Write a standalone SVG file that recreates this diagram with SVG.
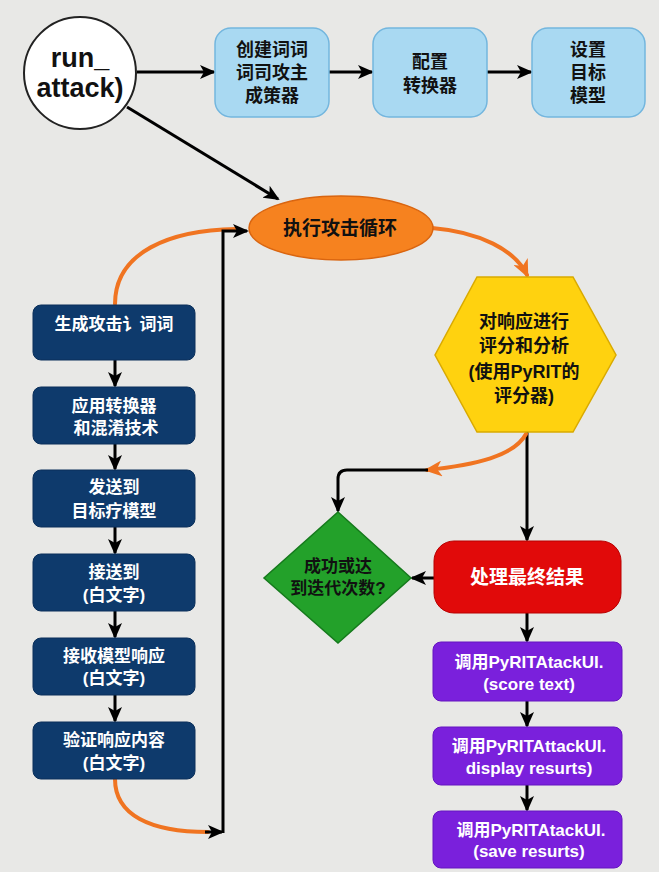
<svg xmlns="http://www.w3.org/2000/svg" width="659" height="872" viewBox="0 0 659 872">
<style>
text{font-family:"Liberation Sans","Noto Sans CJK SC",sans-serif;font-weight:bold;text-anchor:middle;dominant-baseline:central}
.lb{fill:#a9d9f2;stroke:#73b6de;stroke-width:1.5}
.nv{fill:#0e3a6c;stroke:#0a2f5a;stroke-width:1}
.pp{fill:#7a20dc;stroke:#6514c0;stroke-width:1}
.blk{fill:#111}
.wht{fill:#fff}
.cb{fill:none;stroke:#000;stroke-width:3}
.co{fill:none;stroke:#f07421;stroke-width:4;stroke-linecap:round}
</style>
<defs>
<marker id="ab" markerUnits="userSpaceOnUse" markerWidth="16" markerHeight="14" refX="14" refY="7" orient="auto"><path d="M0,0 L16,7 L0,14 L4,7 z" fill="#000"/></marker>
<marker id="ao" markerUnits="userSpaceOnUse" markerWidth="18" markerHeight="16" refX="15" refY="8" orient="auto"><path d="M0,0 L18,8 L0,16 L5,8 z" fill="#f07421"/></marker>
</defs>
<rect width="659" height="872" fill="#e8e8e6"/>

<g id="connectors">
<line class="cb" x1="137" y1="72" x2="214" y2="72" marker-end="url(#ab)"/>
<line class="cb" x1="329" y1="72" x2="372" y2="72" marker-end="url(#ab)"/>
<line class="cb" x1="487" y1="72" x2="531" y2="72" marker-end="url(#ab)"/>
<line class="cb" x1="127" y1="107" x2="278" y2="199" marker-end="url(#ab)"/>
<path class="co" d="M432,228 C480,232 515,250 527,275" marker-end="url(#ao)"/>
<line class="cb" x1="527" y1="432" x2="527" y2="540" marker-end="url(#ab)"/>
<path class="co" d="M526,434 C514,456 476,465 427,470" marker-end="url(#ao)"/>
<path class="cb" d="M428,470 H347 Q338,470 338,479 V511" marker-end="url(#ab)"/>
<line class="cb" x1="434" y1="578" x2="412" y2="578" marker-end="url(#ab)"/>
<line class="cb" x1="527" y1="613" x2="527" y2="641" marker-end="url(#ab)"/>
<line class="cb" x1="527" y1="701" x2="527" y2="726" marker-end="url(#ab)"/>
<line class="cb" x1="527" y1="785" x2="527" y2="810" marker-end="url(#ab)"/>
<line class="cb" x1="115" y1="360" x2="115" y2="386" marker-end="url(#ab)"/>
<line class="cb" x1="115" y1="444" x2="115" y2="469" marker-end="url(#ab)"/>
<line class="cb" x1="115" y1="527" x2="115" y2="553" marker-end="url(#ab)"/>
<line class="cb" x1="115" y1="611" x2="115" y2="637" marker-end="url(#ab)"/>
<line class="cb" x1="115" y1="695" x2="115" y2="721" marker-end="url(#ab)"/>
<path class="co" d="M115,304 C115,252 170,230 236,229"/>
<path class="co" d="M115,779 C115,815 150,832 208,832"/>
<line class="cb" x1="205" y1="832" x2="222" y2="832" marker-end="url(#ab)"/>
<path class="cb" d="M223,833 V231 H247" marker-end="url(#ab)"/>
</g>

<g id="run_attack">
<circle cx="80" cy="73" r="56" fill="#fff" stroke="#222" stroke-width="2"/>
<text x="80" y="58" font-size="27" class="blk">run_</text>
<text x="80" y="88" font-size="27" class="blk">attack)</text>
</g>
<g id="create_gen">
<rect class="lb" x="215" y="28" width="114" height="89" rx="16"/>
<text x="272" y="50" font-size="18" class="blk">创建词词</text>
<text x="272" y="73" font-size="18" class="blk">词司攻主</text>
<text x="272" y="96" font-size="18" class="blk">成策器</text>
</g>
<g id="config_conv">
<rect class="lb" x="373" y="28" width="114" height="89" rx="16"/>
<text x="430" y="62" font-size="18" class="blk">配置</text>
<text x="430" y="86" font-size="18" class="blk">转换器</text>
</g>
<g id="set_target">
<rect class="lb" x="532" y="28" width="113" height="89" rx="16"/>
<text x="588" y="50" font-size="18" class="blk">设置</text>
<text x="588" y="73" font-size="18" class="blk">目标</text>
<text x="588" y="96" font-size="18" class="blk">模型</text>
</g>
<g id="attack_loop">
<ellipse cx="341" cy="228" rx="92" ry="32" fill="#f6821f" stroke="#d96510" stroke-width="1.5"/>
<text x="340" y="228" font-size="19" class="blk">执行攻击循环</text>
</g>
<g id="score">
<polygon points="477,277 573,277 616,355 573,432 477,432 435,355" fill="#ffd20f" stroke="#d9aa00" stroke-width="1.5"/>
<text x="524" y="322" font-size="18" class="blk">对响应进行</text>
<text x="524" y="346" font-size="18" class="blk">评分和分析</text>
<text x="524" y="372" font-size="18" class="blk">(使用PyRIT的</text>
<text x="524" y="396" font-size="18" class="blk">评分器)</text>
</g>
<g id="decision">
<polygon points="338,512 411,578 338,643 264,578" fill="#23a12a" stroke="#157a1c" stroke-width="1.5"/>
<text x="338" y="566" font-size="17" class="blk">成功或达</text>
<text x="338" y="588" font-size="17" class="blk">到迭代次数?</text>
</g>
<g id="final">
<rect x="434" y="541" width="187" height="72" rx="20" fill="#e10a0a" stroke="#b80000" stroke-width="1"/>
<text x="527" y="577" font-size="19" class="wht">处理最终结果</text>
</g>
<g id="ui_score">
<rect class="pp" x="433" y="642" width="189" height="59" rx="8"/>
<text x="529" y="662" font-size="17" class="wht">调用PyRITAtackUI.</text>
<text x="529" y="684" font-size="17" class="wht">(score text)</text>
</g>
<g id="ui_display">
<rect class="pp" x="433" y="727" width="189" height="58" rx="8"/>
<text x="529" y="746" font-size="17" class="wht">调用PyRITAttackUI.</text>
<text x="529" y="768" font-size="17" class="wht">display resurts)</text>
</g>
<g id="ui_save">
<rect class="pp" x="433" y="811" width="189" height="57" rx="8"/>
<text x="531" y="830" font-size="17" class="wht">调用PyRITAtackUI.</text>
<text x="529" y="851" font-size="17" class="wht">(save resurts)</text>
</g>
<g id="gen_prompt">
<rect class="nv" x="33" y="305" width="162" height="55" rx="8"/>
<text x="114" y="324" font-size="17" class="wht">生成攻击讠词词</text>
</g>
<g id="apply_conv">
<rect class="nv" x="33" y="387" width="162" height="57" rx="8"/>
<text x="114" y="406" font-size="17" class="wht">应用转换器</text>
<text x="116" y="428" font-size="17" class="wht">和混淆技术</text>
</g>
<g id="send_target">
<rect class="nv" x="33" y="470" width="162" height="57" rx="8"/>
<text x="114" y="487" font-size="17" class="wht">发送到</text>
<text x="114" y="511" font-size="17" class="wht">目标疗模型</text>
</g>
<g id="send_to">
<rect class="nv" x="33" y="554" width="162" height="57" rx="8"/>
<text x="114" y="572" font-size="17" class="wht">接送到</text>
<text x="114" y="595" font-size="17" class="wht">(白文字)</text>
</g>
<g id="recv_resp">
<rect class="nv" x="33" y="638" width="162" height="57" rx="8"/>
<text x="114" y="656" font-size="17" class="wht">接收模型响应</text>
<text x="114" y="678" font-size="17" class="wht">(白文字)</text>
</g>
<g id="verify_resp">
<rect class="nv" x="33" y="722" width="162" height="57" rx="8"/>
<text x="114" y="740" font-size="17" class="wht">验证响应内容</text>
<text x="114" y="763" font-size="17" class="wht">(白文字)</text>
</g>
</svg>
